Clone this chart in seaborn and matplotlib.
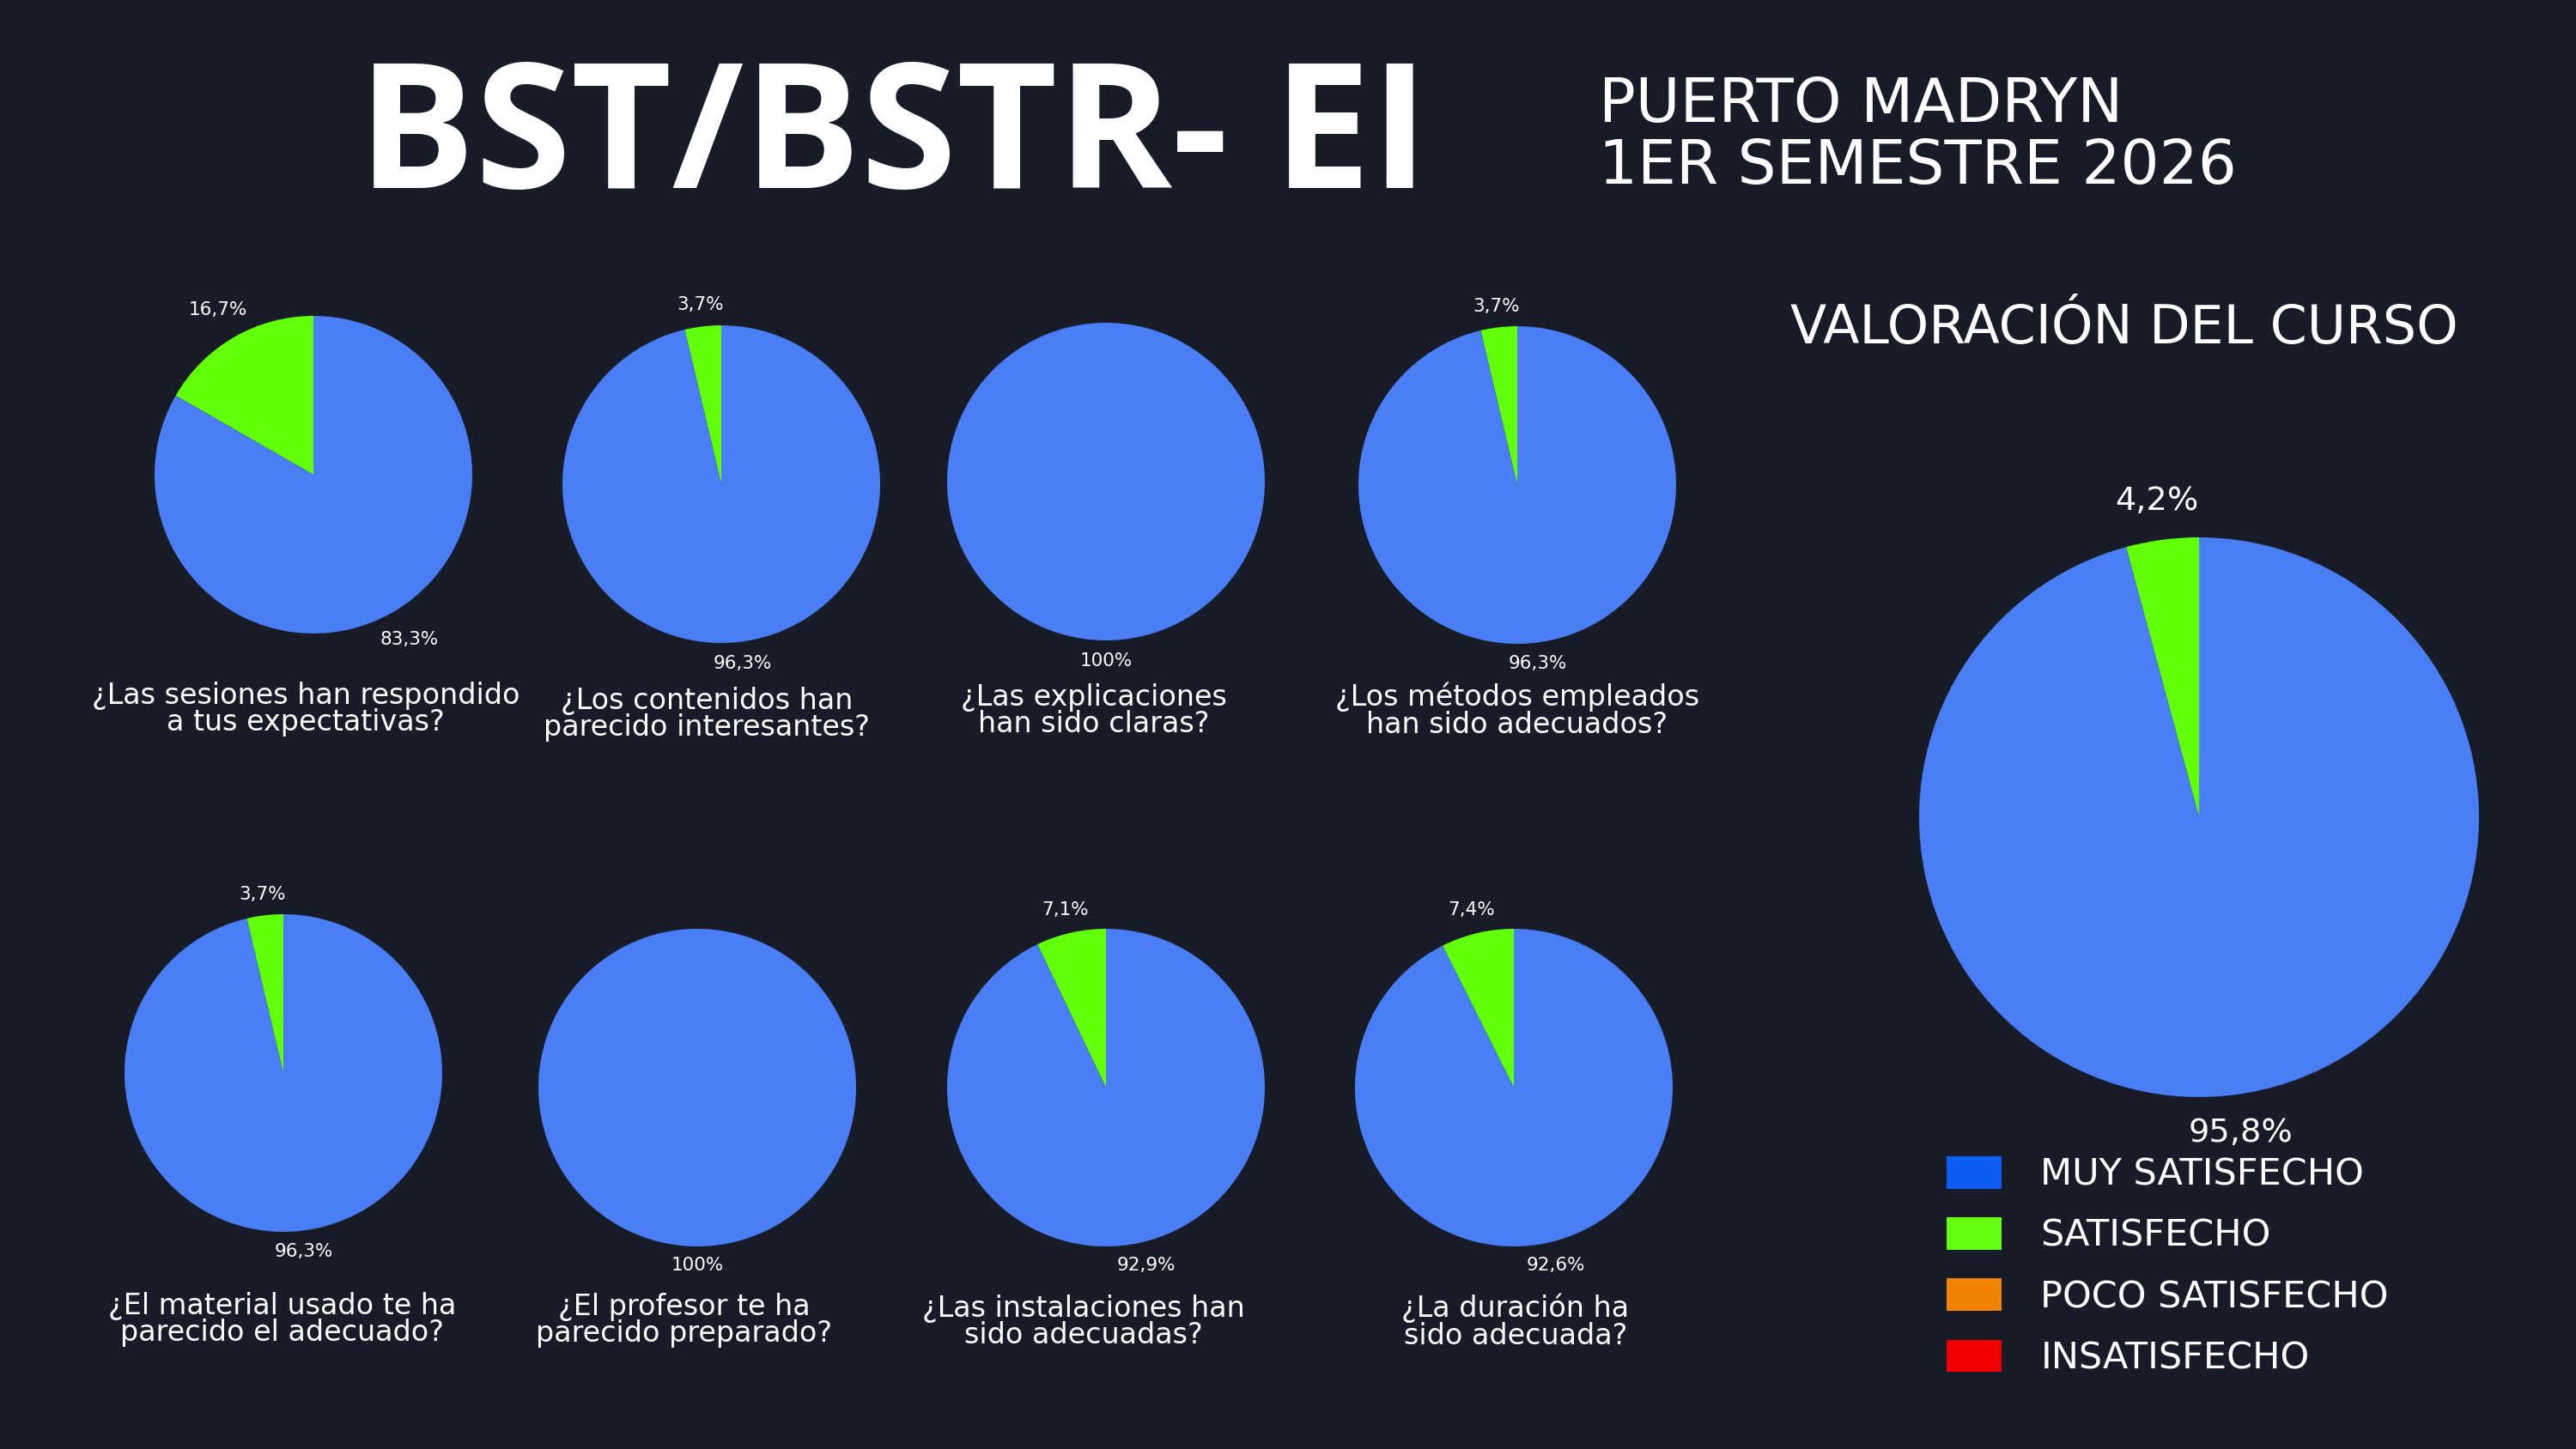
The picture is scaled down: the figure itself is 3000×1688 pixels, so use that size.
import matplotlib
matplotlib.use("Agg")
import matplotlib.pyplot as plt
import seaborn as sns
from matplotlib.patches import Patch

# ---------------- data ----------------
questions = [
    "¿Las sesiones han respondido\na tus expectativas?",
    "¿Los contenidos han\nparecido interesantes?",
    "¿Las explicaciones\nhan sido claras?",
    "¿Los métodos empleados\nhan sido adecuados?",
    "¿El material usado te ha\nparecido el adecuado?",
    "¿El profesor te ha\nparecido preparado?",
    "¿Las instalaciones han\nsido adecuadas?",
    "¿La duración ha\nsido adecuada?",
]
muy_satisfecho = [83.3, 96.3, 100, 96.3, 96.3, 100, 92.9, 92.6]
satisfecho = [16.7, 3.7, 0, 3.7, 3.7, 0, 7.1, 7.4]

categories = ["MUY SATISFECHO", "SATISFECHO", "POCO SATISFECHO", "INSATISFECHO"]
overall = [95.8, 4.2, 0, 0]

title = "BST/BSTR- EI"
subtitle_1 = "PUERTO MADRYN"
subtitle_2 = "1ER SEMESTRE 2026"
overall_title = "VALORACIÓN DEL CURSO"

# ---------------- style ----------------
BG = "#181c28"
PIE_BLUE = "#4a7ef5"
PIE_GREEN = "#62ff0b"
LEGEND_COLORS = ["#0d5cf6", "#66ff12", "#f08300", "#f00000"]

sns.set_theme(style="dark", rc={
    "figure.facecolor": BG,
    "axes.facecolor": BG,
    "savefig.facecolor": BG,
    "text.color": "white",
})
plt.rcParams["font.family"] = ["DejaVu Sans"]

W, H = 3000, 1688
fig = plt.figure(figsize=(W / 100, H / 100), dpi=100)

# layout (pixel centres / radii of the pies, question text centres)
pie_centers = [(365, 553), (840, 564), (1288, 561), (1767, 565),
               (330, 1250), (812, 1267), (1288, 1267), (1763, 1267)]
pie_r = 185
pct_dist = [1.2, 1.14, 1.13, 1.13, 1.13, 1.12, 1.15, 1.15]
text_pos = [(356, 826), (823, 832), (1274, 828), (1767, 828),
            (329, 1537), (797, 1538), (1262, 1540), (1765, 1540)]


def fmt_pct(p):
    if p < 0.05:
        return ""
    s = f"{p:.1f}"
    if s.endswith(".0"):
        s = s[:-2]
    return s.replace(".", ",") + "%"


def pie_axes(cx, cy, r):
    return fig.add_axes([(cx - r) / W, 1 - (cy + r) / H, 2 * r / W, 2 * r / H])


palette = sns.color_palette([PIE_GREEN, PIE_BLUE])

for i in range(len(questions)):
    cx, cy = pie_centers[i]
    ax = pie_axes(cx, cy, pie_r)
    vals = [satisfecho[i], muy_satisfecho[i]]
    ax.pie(vals, colors=palette, startangle=90, counterclock=True,
           autopct=fmt_pct, pctdistance=pct_dist[i],
           wedgeprops=dict(linewidth=0),
           textprops=dict(color="white", fontsize=15.5))
    ax.set_xlim(-1, 1)
    ax.set_ylim(-1, 1)
    ax.axis("off")
    tx, ty = text_pos[i]
    fig.text(tx / W, 1 - ty / H, questions[i], ha="center", va="center",
             fontsize=24, color="white", linespacing=0.95, multialignment="center")

# overall pie
ax = pie_axes(2561, 952, 326)
ax.pie([overall[1], overall[0]], colors=palette, startangle=90, counterclock=True,
       autopct=fmt_pct, pctdistance=1.14, wedgeprops=dict(linewidth=0),
       textprops=dict(color="white", fontsize=27.5))
ax.set_xlim(-1, 1)
ax.set_ylim(-1, 1)
ax.axis("off")

# titles
fig.text(1040 / W, 1 - 219 / H, title, ha="center", va="baseline",
         fontsize=146, fontweight="bold", family=["Open Sans", "DejaVu Sans"], color="white")
fig.text(1862 / W, 1 - 142 / H, subtitle_1, ha="left", va="baseline",
         fontsize=51, color="white")
fig.text(1862 / W, 1 - 214 / H, subtitle_2, ha="left", va="baseline",
         fontsize=51, color="white")
fig.text(2474 / W, 1 - 400 / H, overall_title, ha="center", va="baseline",
         fontsize=44.5, color="white")

# legend
handles = [Patch(facecolor=c, edgecolor="none") for c in LEGEND_COLORS]
fig.legend(handles, categories, loc="upper left",
           bbox_to_anchor=(2267 / W, 1 - 1347 / H), frameon=False,
           fontsize=31, labelcolor="white", handlelength=1.49, handleheight=0.98,
           handletextpad=1.05, labelspacing=0.66, borderpad=0, borderaxespad=0)

fig.savefig("out.png", dpi=100, facecolor=BG)
